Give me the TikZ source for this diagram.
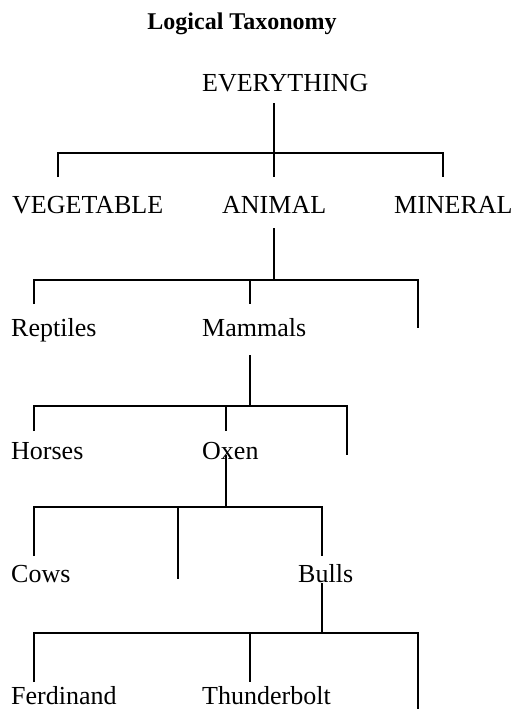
\documentclass[tikz,border=0pt]{standalone}
\usepackage{fontspec}
\setmainfont{Liberation Serif}
\begin{document}
\begin{tikzpicture}[x=1pt,y=-1pt,
  lbl/.style={anchor=base west,inner sep=0pt,font=\fontsize{26}{26}\selectfont},
  ttl/.style={anchor=base,inner sep=0pt,font=\fontsize{24}{24}\selectfont\bfseries},
  conn/.style={line width=1.4pt,line cap=butt,line join=miter}]
\useasboundingbox (0,0) rectangle (515,709);
% texts
\node[ttl] (title) at (242,30) {Logical Taxonomy};
\node[lbl] (every) at (202,91) {EVERYTHING};
\node[lbl] (veg) at (12,213) {VEGETABLE};
\node[lbl] (ani) at (222,213) {ANIMAL};
\node[lbl] (min) at (394,213) {MINERAL};
\node[lbl] (rep) at (11,336) {Reptiles};
\node[lbl] (mam) at (202,336) {Mammals};
\node[lbl] (hor) at (11,459) {Horses};
\node[lbl] (oxe) at (202,459) {Oxen};
\node[lbl] (cow) at (11,582) {Cows};
\node[lbl] (bul) at (298,582) {Bulls};
\node[lbl] (fer) at (11,704) {Ferdinand};
\node[lbl] (thu) at (202,704) {Thunderbolt};
% level 1
\coordinate (a0) at (274,103);
\coordinate (a1) at (274,177);
\coordinate (aL) at (58,177);
\coordinate (aLt) at (58,153);
\coordinate (aRt) at (443,153);
\coordinate (aR) at (443,177);
\draw[conn] (a0) -- (a1);
\draw[conn] (aL) -- (aLt) -- (aRt) -- (aR);
% level 2
\coordinate (b0) at (274,228);
\coordinate (b1) at (274,280);
\coordinate (bL) at (34,304);
\coordinate (bLt) at (34,280);
\coordinate (bRt) at (418,280);
\coordinate (bR) at (418,328);
\coordinate (bMt) at (250,280);
\coordinate (bM) at (250,304);
\draw[conn] (b0) -- (b1);
\draw[conn] (bL) -- (bLt) -- (bRt) -- (bR);
\draw[conn] (bMt) -- (bM);
% level 3
\coordinate (c0) at (250,355);
\coordinate (c1) at (250,406);
\coordinate (cL) at (34,431);
\coordinate (cLt) at (34,406);
\coordinate (cRt) at (347,406);
\coordinate (cR) at (347,455);
\coordinate (cMt) at (226,406);
\coordinate (cM) at (226,431);
\draw[conn] (c0) -- (c1);
\draw[conn] (cL) -- (cLt) -- (cRt) -- (cR);
\draw[conn] (cMt) -- (cM);
% level 4
\coordinate (d0) at (226,455);
\coordinate (d1) at (226,507);
\coordinate (dL) at (34,556);
\coordinate (dLt) at (34,507);
\coordinate (dRt) at (322,507);
\coordinate (dR) at (322,556);
\coordinate (dMt) at (178,507);
\coordinate (dM) at (178,579);
\draw[conn] (d0) -- (d1);
\draw[conn] (dL) -- (dLt) -- (dRt) -- (dR);
\draw[conn] (dMt) -- (dM);
% level 5
\coordinate (e0) at (322,583);
\coordinate (e1) at (322,633);
\coordinate (eL) at (34,682);
\coordinate (eLt) at (34,633);
\coordinate (eRt) at (418,633);
\coordinate (eR) at (418,709);
\coordinate (eMt) at (250,633);
\coordinate (eM) at (250,682);
\draw[conn] (e0) -- (e1);
\draw[conn] (eL) -- (eLt) -- (eRt) -- (eR);
\draw[conn] (eMt) -- (eM);
\end{tikzpicture}
\end{document}
